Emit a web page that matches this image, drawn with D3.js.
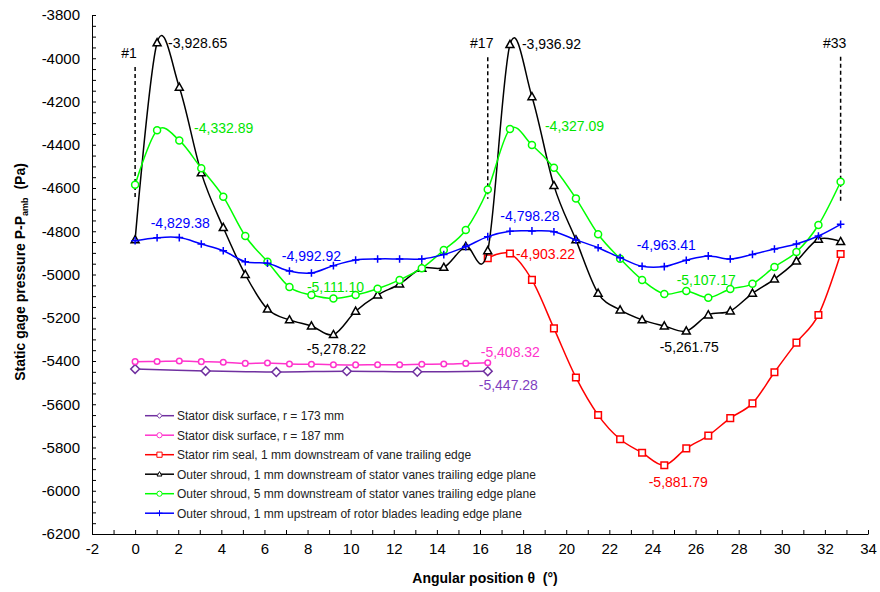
<!DOCTYPE html>
<html>
<head>
<meta charset="utf-8">
<script src="https://cdn.jsdelivr.net/npm/d3@7"></script>
<style>
  body { margin: 0; background: #fff; }
  svg text { font-family: Arial, "Liberation Sans", sans-serif; }
</style>
</head>
<body>
<svg id="chart" width="880" height="592"></svg>
<script>
// Angular positions of the 33 pressure taps (one vane pitch = 16 intervals)
const angles = [0.00, 1.02, 2.05, 3.07, 4.09, 5.11, 6.14, 7.16, 8.18, 9.20, 10.23,
  11.25, 12.27, 13.30, 14.32, 15.34, 16.36, 17.39, 18.41, 19.43, 20.45, 21.48,
  22.50, 23.52, 24.55, 25.57, 26.59, 27.61, 28.64, 29.66, 30.68, 31.70, 32.73];
const anglesR173 = [0.00, 3.27, 6.55, 9.82, 13.09, 16.36];
const anglesFirstPitch = angles.slice(0, 17);
const anglesSecondPitch = angles.slice(16);

// Static gage pressure (Pa)
const statorDiskR173 = [-5437, -5446, -5451, -5447, -5450, -5447.28];
const statorDiskR187 = [-5403, -5402, -5400, -5403, -5406, -5411, -5409, -5414, -5415,
  -5417, -5418, -5417, -5417, -5415, -5414, -5411, -5408.32];
const statorRimSeal = [-4925, -4903.22, -5025, -5249, -5476, -5650, -5762, -5824,
  -5881.79, -5804, -5745, -5664, -5596, -5452, -5315, -5187, -4905];
const shroud1mmDown = [-4840, -3928.65, -4134, -4530, -4783, -5000, -5160, -5210, -5238,
  -5278.22, -5170, -5095, -5044, -4971, -4967, -4871, -4890, -3936.92, -4178, -4589,
  -4840, -5087, -5164, -5210, -5238, -5261.75, -5187, -5169, -5087, -5021, -4938,
  -4837, -4848];
const shroud5mmDown = [-4585, -4332.89, -4380, -4509, -4640, -4822, -4941, -5058, -5095,
  -5111.10, -5095, -5066, -5025, -4971, -4887, -4794, -4607, -4327.09, -4401, -4506,
  -4648, -4814, -4927, -5025, -5090, -5076, -5107.17, -5067, -5043, -4965, -4896,
  -4771, -4571];
const shroud1mmUp = [-4844, -4830, -4829.38, -4859, -4890, -4941, -4948, -4984, -4992.92,
  -4959, -4933, -4928, -4928, -4928, -4908, -4871, -4825, -4800, -4798.28, -4802,
  -4840, -4876, -4922, -4962, -4963.41, -4934, -4914, -4928, -4907, -4882, -4859,
  -4822, -4768];

const seriesNames = [
  "Stator disk surface, r = 173 mm",
  "Stator disk surface, r = 187 mm",
  "Stator rim seal, 1 mm downstream of vane trailing edge",
  "Outer shroud, 1 mm downstream of stator vanes trailing edge plane",
  "Outer shroud, 5 mm downstream of stator vanes trailing edge plane",
  "Outer shroud, 1 mm upstream of rotor blades leading edge plane"
];

// Probe position markers
const probeNames = ["#1", "#17", "#33"];
const probeAngles = [0.00, 16.36, 32.73];
const probeTop = [-4040, -3995, -3993];
const probeBottom = [-4650, -4650, -4670];

const xTickValues = [-2, 0, 2, 4, 6, 8, 10, 12, 14, 16, 18, 20, 22, 24, 26, 28, 30, 32, 34];
const yTickValues = [-3800, -4000, -4200, -4400, -4600, -4800, -5000, -5200, -5400,
  -5600, -5800, -6000, -6200];

// ---------------------------------------------------------------------------
const svg = d3.select("#chart");
const x = d3.scaleLinear().domain([-2, 34]).range([92, 868]);
const y = d3.scaleLinear().domain([-6200, -3800]).range([534, 15]);

const series = [
  { name: seriesNames[0], xs: anglesR173, ys: statorDiskR173, color: "#7030A0", label: "#7F3FBF", marker: "diamond", size: 4.4 },
  { name: seriesNames[1], xs: anglesFirstPitch, ys: statorDiskR187, color: "#FF33CC", label: "#FF33CC", marker: "circle", size: 2.8 },
  { name: seriesNames[2], xs: anglesSecondPitch, ys: statorRimSeal, color: "#FF0000", label: "#FF0000", marker: "square", size: 3.3 },
  { name: seriesNames[3], xs: angles, ys: shroud1mmDown, color: "#000000", label: "#000000", marker: "triangle", size: 4.2 },
  { name: seriesNames[4], xs: angles, ys: shroud5mmDown, color: "#00FF00", label: "#00E600", marker: "circle", size: 3.5 },
  { name: seriesNames[5], xs: angles, ys: shroud1mmUp, color: "#0000FF", label: "#0000FF", marker: "plus", size: 3.8 }
];

function markerPath(type, s) {
  switch (type) {
    case "diamond": return `M0,${-s}L${s},0L0,${s}L${-s},0Z`;
    case "square": return `M${-s},${-s}H${s}V${s}H${-s}Z`;
    case "triangle": return `M0,${-s}L${s * 0.95},${s * 0.7}H${-s * 0.95}Z`;
    case "plus": return `M${-s},0H${s}M0,${-s}V${s}`;
    default: {
      return `M${s},0A${s},${s} 0 1,1 ${-s},0A${s},${s} 0 1,1 ${s},0Z`;
    }
  }
}

// Axes (ticks point inward)
const xAxis = d3.axisBottom(x)
  .tickValues(d3.range(-2, 35, 1))
  .tickSizeInner(-4).tickSizeOuter(0).tickPadding(9)
  .tickFormat(d => xTickValues.includes(d) ? String(d) : "");
const gx = svg.append("g").attr("transform", "translate(0,534)").call(xAxis);

const yAxis = d3.axisLeft(y)
  .tickValues(d3.range(-6200, -3799, 50))
  .tickSizeInner(-4).tickSizeOuter(0).tickPadding(12)
  .tickFormat(d => yTickValues.includes(d) ? String(d) : "");
const gy = svg.append("g").attr("transform", "translate(92,0)").call(yAxis);

[gx, gy].forEach(g => {
  g.select(".domain").attr("stroke", "#000").attr("stroke-width", 1);
  g.selectAll(".tick line").attr("stroke", "#000");
  g.selectAll(".tick text").attr("font-size", "15px").attr("fill", "#000")
    .attr("font-family", "Arial, 'Liberation Sans', sans-serif");
});

// Probe markers
probeNames.forEach((p, i) => {
  const px = x(probeAngles[i]);
  svg.append("line")
    .attr("x1", px).attr("x2", px)
    .attr("y1", y(probeTop[i])).attr("y2", y(probeBottom[i]))
    .attr("stroke", "#000").attr("stroke-width", 1.5)
    .attr("stroke-dasharray", "4,3");
  svg.append("text")
    .attr("x", px - 6).attr("y", y(probeTop[i]) - 9)
    .attr("text-anchor", "middle").attr("font-size", "14px").attr("fill", "#000")
    .text(p);
});

// Series lines and markers
const line = d3.line().curve(d3.curveCardinal.tension(0));
series.forEach(s => {
  const pts = s.xs.map((a, i) => [x(a), y(s.ys[i])]);
  svg.append("path")
    .attr("d", line(pts))
    .attr("fill", "none")
    .attr("stroke", s.color)
    .attr("stroke-width", 1.5);
  svg.append("g").selectAll("path").data(pts).join("path")
    .attr("transform", d => `translate(${d[0]},${d[1]})`)
    .attr("d", markerPath(s.marker, s.size))
    .attr("fill", s.marker === "plus" ? "none" : "#fff")
    .attr("stroke", s.color)
    .attr("stroke-width", 1.5);
});

// Value labels on extreme points: [series index, point index, dx, dy, anchor]
const fmtLocale = d3.formatLocale({ decimal: ".", thousands: ",", grouping: [3], currency: ["", ""], minus: "-" });
const fmt = fmtLocale.format(",.2f");
const valueLabels = [
  [3, 1, 11, 5, "start"],
  [4, 1, 37, 3, "start"],
  [3, 17, 12, 4, "start"],
  [4, 17, 35, 2, "start"],
  [5, 2, 1, -10, "middle"],
  [5, 8, 0, -12, "middle"],
  [4, 9, 2, -7, "middle"],
  [3, 9, 3, 19, "middle"],
  [5, 18, -2, -10, "middle"],
  [2, 1, 6, 5, "start"],
  [1, 16, -7, -6, "start"],
  [0, 5, -9, 19, "start"],
  [5, 24, 2, -17, "middle"],
  [4, 26, -2, -13, "middle"],
  [3, 25, 3, 21, "middle"],
  [2, 8, 14, 22, "middle"]
];
valueLabels.forEach(([si, pi, dx, dy, anchor]) => {
  const s = series[si];
  svg.append("text")
    .attr("x", x(s.xs[pi]) + dx)
    .attr("y", y(s.ys[pi]) + dy)
    .attr("text-anchor", anchor)
    .attr("font-size", "14px")
    .attr("fill", s.label)
    .text(fmt(s.ys[pi]));
});

// Legend
const legend = svg.append("g");
const legendY = [415.7, 435.2, 454.7, 474.2, 493.7, 513.2];
series.forEach((s, i) => {
  const g = legend.append("g").attr("transform", `translate(0,${legendY[i]})`);
  g.append("line").attr("x1", 145).attr("x2", 174).attr("y1", 0).attr("y2", 0)
    .attr("stroke", s.color).attr("stroke-width", 1.5);
  g.append("path").attr("transform", "translate(159.5,0)")
    .attr("d", markerPath(s.marker, s.marker === "plus" ? 3 : 2.6))
    .attr("fill", s.marker === "plus" ? "none" : "#fff")
    .attr("stroke", s.color).attr("stroke-width", 1);
  g.append("text").attr("x", 177).attr("y", 4.5)
    .attr("font-size", "12px").attr("fill", "#222").text(s.name);
});

// Axis titles
svg.append("text")
  .attr("x", 485).attr("y", 583)
  .attr("text-anchor", "middle").attr("font-size", "14px").attr("font-weight", "bold")
  .text("Angular position \u03B8\u00A0\u00A0(\u00B0)");

const yt = svg.append("text")
  .attr("transform", "translate(25,272) rotate(-90)")
  .attr("text-anchor", "middle").attr("font-size", "14px").attr("font-weight", "bold");
yt.append("tspan").text("Static gage pressure P-P");
yt.append("tspan").attr("font-size", "9px").attr("dy", 3).text("amb");
yt.append("tspan").attr("dy", -3).text("\u00A0\u00A0(Pa)");
</script>
</body>
</html>
